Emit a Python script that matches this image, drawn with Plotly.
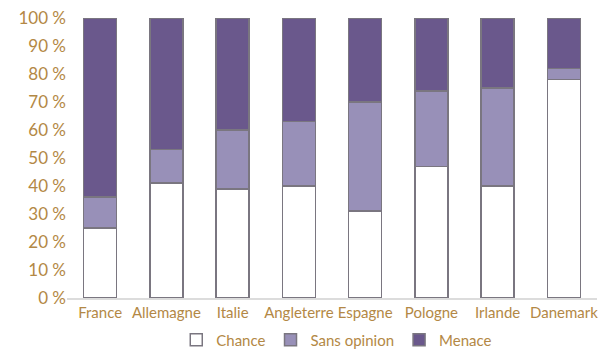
import plotly.graph_objects as go

countries = ["France", "Allemagne", "Italie", "Angleterre", "Espagne", "Pologne", "Irlande", "Danemark"]
chance = [25, 41, 39, 40, 31, 47, 40, 78]
sans_opinion = [11, 12, 21, 23, 39, 27, 35, 4]
menace = [64, 47, 40, 37, 30, 26, 25, 18]

tick_vals = [0, 10, 20, 30, 40, 50, 60, 70, 80, 90, 100]
tick_text = ["0 %", "10 %", "20 %", "30 %", "40 %", "50 %", "60 %", "70 %", "80 %", "90 %", "100 %"]

text_color = "#b38845"
font_family = "Lato, 'Noto Sans', sans-serif"
outline = dict(color="#7a7680", width=1.5)

fig = go.Figure()
fig.add_trace(go.Bar(x=countries, y=chance, name="Chance", marker=dict(color="#ffffff", line=outline), width=0.5))
fig.add_trace(go.Bar(x=countries, y=sans_opinion, name="Sans opinion", marker=dict(color="#9890b8", line=outline), width=0.5))
fig.add_trace(go.Bar(x=countries, y=menace, name="Menace", marker=dict(color="#6a588c", line=outline), width=0.5))

fig.update_layout(
    barmode="stack",
    width=606, height=350,
    margin=dict(l=67, r=9, t=18, b=52, autoexpand=False),
    paper_bgcolor="white", plot_bgcolor="white",
    font=dict(family=font_family, color=text_color, size=15),
    showlegend=True,
    legend=dict(orientation="h", x=0.509, xanchor="center", y=-0.15, yanchor="middle",
                font=dict(size=15, color=text_color), traceorder="normal",
                bgcolor="rgba(0,0,0,0)"),
)
fig.update_xaxes(showgrid=False, showline=True, linecolor="#dcdcdc", linewidth=2,
                 tickfont=dict(size=15, color=text_color), ticks="", automargin=False)
fig.update_yaxes(range=[0, 100], tickvals=tick_vals, ticktext=tick_text, showgrid=False,
                 zeroline=False, showline=False, tickfont=dict(size=17, color=text_color),
                 automargin=False)

fig.write_html("out.html")
